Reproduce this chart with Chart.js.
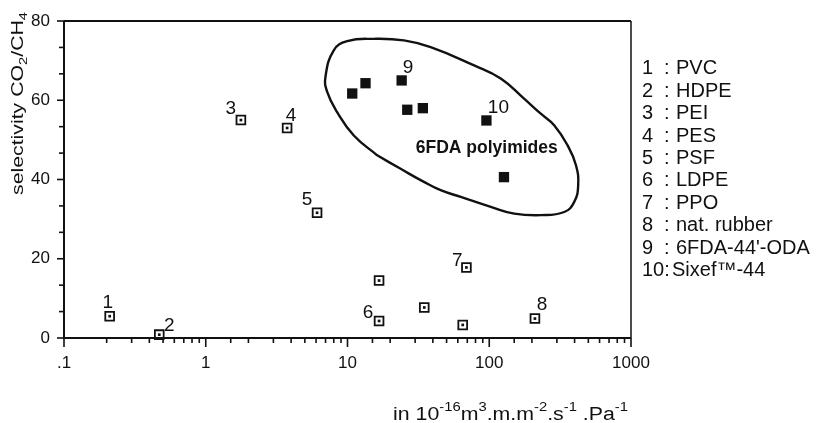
<!DOCTYPE html>
<html><head><meta charset="utf-8">
<script src="https://cdn.jsdelivr.net/npm/chart.js@4/dist/chart.umd.min.js"></script>
<style>html,body{margin:0;padding:0;background:#fff;}canvas{display:block}</style>
</head><body>
<canvas id="c" width="817" height="423"></canvas>
<script>
// ---- data ----
const openX = [0.21, 0.47, 1.77, 3.75, 6.1, 16.7, 16.7, 34.8, 65, 69, 210];
const openY = [5.5, 0.85, 55, 53, 31.6, 14.5, 4.3, 7.7, 3.3, 17.8, 4.9];
const openLabels = ['1', '2', '3', '4', '5', '', '6', '', '', '7', '8'];
const filledX = [10.8, 13.4, 24.1, 26.4, 34.0, 95.5, 127];
const filledY = [61.7, 64.3, 65.0, 57.6, 58.0, 54.9, 40.6];
const filledLabels = ['', '', '9', '', '', '10', ''];
const ellipseX = [16.2, 11.08, 8.45, 7.19, 6.99, 8.0, 9.95, 15.35, 25.0, 38.6, 78.2, 120.5, 176, 231, 287, 357, 409, 424, 397, 338, 231, 150, 102.6, 63, 45.4, 34.6, 23.7, 16.2];
const ellipseY = [46.1, 51.1, 57.0, 62.1, 65.9, 72.6, 74.9, 75.5, 75.1, 73.4, 68.8, 65.5, 60.4, 56.6, 53.7, 48.6, 43.6, 38.5, 34.3, 31.8, 31.0, 31.4, 33.1, 35.6, 37.3, 39.4, 42.7, 46.1];
const groupLabel = '6FDA polyimides';
const groupLabelAt = [96, 47.9];
const xTickLabels = ['.1', '1', '10', '100', '1000'];
const yTickLabels = ['0', '20', '40', '60', '80'];
const legendNums = ['1', '2', '3', '4', '5', '6', '7', '8', '9', '10'];
const legendNames = ['PVC', 'HDPE', 'PEI', 'PES', 'PSF', 'LDPE', 'PPO', 'nat. rubber', "6FDA-44'-ODA", 'Sixef\u2122-44'];

// ---- styling / layout ----
const FAM = '"Liberation Sans", Arial, Helvetica, sans-serif';
const INK = '#111';
const labelOffsets = {'1':[-2,-13],'2':[10,-9],'3':[-10,-11],'4':[4,-12],'5':[-10,-13],'6':[-11,-8],'7':[-9,-7],'8':[7,-14],'9':[6.5,-12.5],'10':[12,-12.5]};

function pts(xs, ys){ return xs.map((v,i)=>({x:v, y:ys[i]})); }

function drawRuns(ctx, runs, x, y, target){
  let total = 0;
  runs.forEach(r=>{ ctx.font = (r.bold?'bold ':'') + r.size + 'px ' + FAM; r.w = ctx.measureText(r.t).width; total += r.w; });
  const sx = target ? target/total : 1;
  ctx.save(); ctx.translate(x,y); ctx.scale(sx,1);
  let cx = 0;
  runs.forEach(r=>{ ctx.font = (r.bold?'bold ':'') + r.size + 'px ' + FAM; ctx.fillText(r.t, cx, r.dy||0); cx += r.w; });
  ctx.restore();
}

const decor = {
  id: 'decor',
  afterDraw(chart){
    const {ctx, chartArea:a, scales:{x, y}} = chart;
    ctx.save();
    ctx.strokeStyle = INK; ctx.fillStyle = INK;
    // frame
    ctx.lineWidth = 2;
    ctx.beginPath();
    ctx.moveTo(a.left, a.top); ctx.lineTo(a.right, a.top);
    ctx.moveTo(a.left, a.top); ctx.lineTo(a.left, a.bottom);
    ctx.moveTo(a.left-1, a.bottom); ctx.lineTo(a.right, a.bottom);
    ctx.stroke();
    ctx.lineWidth = 1.5;
    ctx.beginPath(); ctx.moveTo(a.right, a.top); ctx.lineTo(a.right, a.bottom); ctx.stroke();
    // x ticks
    ctx.lineWidth = 1.6;
    x.ticks.forEach(t=>{
      const l = Math.log10(t.value);
      const major = Math.abs(l - Math.round(l)) < 1e-6;
      const px = x.getPixelForValue(t.value);
      ctx.beginPath(); ctx.moveTo(px, a.bottom); ctx.lineTo(px, a.bottom + (major?9:5)); ctx.stroke();
    });
    // y ticks
    y.ticks.forEach(t=>{
      const major = Math.abs(t.value/20 - Math.round(t.value/20)) < 1e-6;
      const py = y.getPixelForValue(t.value);
      ctx.beginPath(); ctx.moveTo(a.left, py); ctx.lineTo(a.left - (major?7:5), py); ctx.stroke();
    });
    // point labels
    ctx.font = '19px ' + FAM; ctx.textAlign = 'center'; ctx.textBaseline = 'middle';
    const put = (dsIndex, labels) => {
      const meta = chart.getDatasetMeta(dsIndex);
      labels.forEach((lab,i)=>{
        if(!lab) return;
        const el = meta.data[i]; const o = labelOffsets[lab];
        ctx.fillText(lab, el.x + o[0], el.y + o[1]);
      });
    };
    put(2, openLabels);
    put(0, filledLabels);
    // group label
    ctx.font = 'bold 17.5px ' + FAM;
    ctx.fillText(groupLabel, x.getPixelForValue(groupLabelAt[0]), y.getPixelForValue(groupLabelAt[1]));
    // legend
    ctx.textAlign = 'left'; ctx.textBaseline = 'alphabetic';
    ctx.font = '20px ' + FAM;
    legendNums.forEach((n,i)=>{
      const by = 74.3 + i*22.4;
      if(n.length > 1){
        ctx.fillText(n + ':', 642, by);
        ctx.fillText(legendNames[i], 672, by);
      } else {
        ctx.fillText(n, 642, by);
        ctx.fillText(':', 664, by);
        ctx.fillText(legendNames[i], 676, by);
      }
    });
    // x axis title
    drawRuns(ctx, [
      {t:'in 10', size:18}, {t:'-16', size:12.5, dy:-9}, {t:'m', size:18}, {t:'3', size:12.5, dy:-9},
      {t:'.m.m', size:18}, {t:'-2', size:12.5, dy:-9}, {t:'.s', size:18}, {t:'-1', size:12.5, dy:-9},
      {t:' .Pa', size:18}, {t:'-1', size:12.5, dy:-9}
    ], 393, 420, 235);
    // y axis title
    ctx.save();
    ctx.translate(23, 195); ctx.rotate(-Math.PI/2);
    drawRuns(ctx, [
      {t:'selectivity CO', size:16}, {t:'2', size:11, dy:4}, {t:'/CH', size:16}, {t:'4', size:11, dy:4}
    ], 0, 0, 183);
    ctx.restore();
    ctx.restore();
  }
};

new Chart(document.getElementById('c'), {
  type: 'scatter',
  data: { datasets: [
    { label:'filled', data: pts(filledX, filledY), pointStyle:'rect', pointRadius:7.3, pointBorderWidth:0, backgroundColor:INK, borderColor:INK, clip:false },
    { label:'openDot', data: pts(openX, openY), pointStyle:'rect', pointRadius:1.9, pointBorderWidth:0, backgroundColor:INK, borderColor:INK, clip:false },
    { label:'open', data: pts(openX, openY), pointStyle:'rect', pointRadius:6.2, pointBorderWidth:1.8, backgroundColor:'#fff', borderColor:INK, clip:false },
    { label:'ellipse', data: pts(ellipseX, ellipseY), showLine:true, borderColor:INK, borderWidth:2.4, tension:0.45, pointRadius:0, fill:false }
  ]},
  options: {
    responsive:false, animation:false, devicePixelRatio:1,
    layout:{ padding:{ left:0, top:21, right:186, bottom:0 } },
    plugins:{ legend:{display:false}, tooltip:{enabled:false} },
    scales:{
      x:{ type:'logarithmic', min:0.1, max:1000,
          grid:{display:false}, border:{display:false},
          ticks:{ autoSkip:false, maxRotation:0, color:INK, padding:7, font:{family:FAM, size:17},
            callback:(v)=>{ const l=Math.log10(v); return Math.abs(l-Math.round(l))<1e-6 ? xTickLabels[Math.round(l)+1] : ''; } },
          afterFit(s){ s.height = 85; } },
      y:{ type:'linear', min:0, max:80,
          grid:{display:false}, border:{display:false},
          ticks:{ stepSize:20/3, maxTicksLimit:20, autoSkip:false, color:INK, padding:6, font:{family:FAM, size:17},
            callback:(v)=>{ const k=v/20; return Math.abs(k-Math.round(k))<1e-6 ? yTickLabels[Math.round(k)] : ''; } },
          afterFit(s){ s.width = 64; } }
    }
  },
  plugins:[decor]
});
</script>
</body></html>
